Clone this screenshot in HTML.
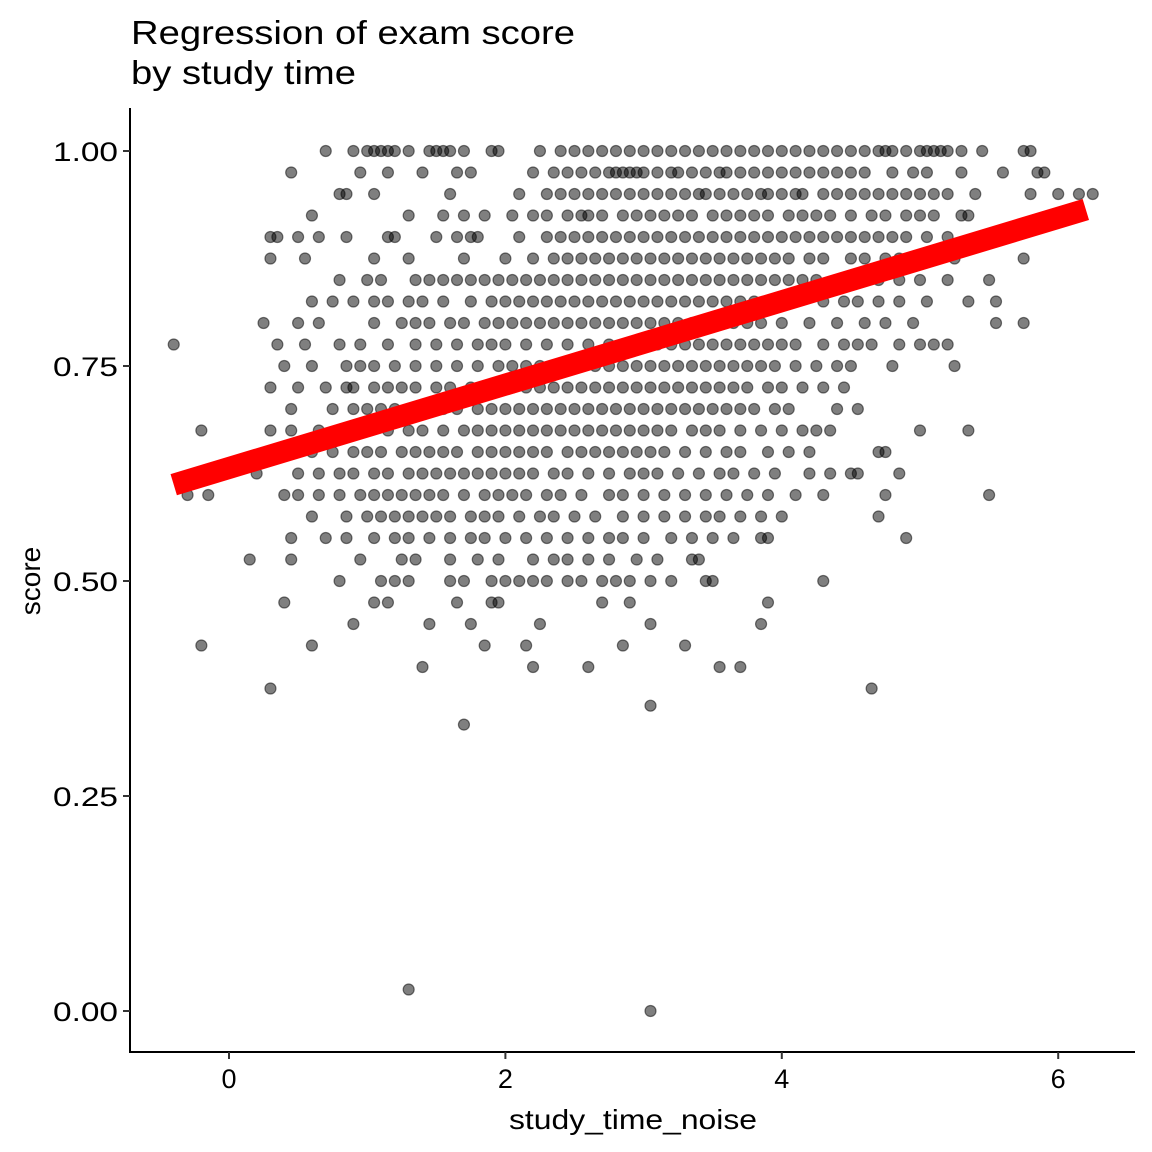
<!DOCTYPE html>
<html><head><meta charset="utf-8"><style>
body{margin:0;background:#fff}
svg{display:block;font-family:"Liberation Sans",Arial,sans-serif}
</style></head><body>
<svg id="chart" width="1152" height="1152" viewBox="0 0 1152 1152">
<rect width="1152" height="1152" fill="#fff"/>
<text x="131" y="44" font-size="33" fill="#000" textLength="444" lengthAdjust="spacingAndGlyphs">Regression of exam score</text>
<text x="131" y="84" font-size="33" fill="#000" textLength="225" lengthAdjust="spacingAndGlyphs">by study time</text>
<g id="points"></g>
<g id="fit"></g>
<line x1="130" y1="108" x2="130" y2="1053" stroke="#000" stroke-width="2"/>
<line x1="129" y1="1052" x2="1135" y2="1052" stroke="#000" stroke-width="2"/>
<g id="yticks"></g>
<g id="xticks"></g>
<text x="633" y="1129" font-size="28" text-anchor="middle" textLength="248" lengthAdjust="spacingAndGlyphs">study_time_noise</text>
<text x="40" y="581" font-size="28" text-anchor="middle" transform="rotate(-90 40 581)">score</text>
</svg>
<script>
const xTicks=[0,2,4,6];
const yTicks=[0,0.25,0.5,0.75,1];
const yTickLabels=["0.00","0.25","0.50","0.75","1.00"];
const fitX=[-0.4,6.2];
const fitY=[0.612,0.932];
const levels=[1.0,0.975,0.95,0.925,0.9,0.875,0.85,0.825,0.8,0.775,0.75,0.725,0.7,0.675,0.65,0.625,0.6,0.575,0.55,0.525,0.5,0.475,0.45,0.425,0.4,0.375,0.355,0.333,0.025,0.0];
const levelX=[
[0.7,0.9,1.0,1.05,1.1,1.15,1.2,1.3,1.45,1.5,1.55,1.6,1.7,1.9,1.95,2.25,2.4,2.5,2.6,2.7,2.8,2.9,3.0,3.1,3.2,3.3,3.4,3.5,3.6,3.7,3.8,3.9,4.0,4.1,4.2,4.3,4.4,4.5,4.6,4.7,4.75,4.8,4.9,5.0,5.05,5.1,5.15,5.2,5.3,5.45,5.75,5.8],
[0.45,0.95,1.15,1.4,1.65,1.75,2.2,2.35,2.45,2.55,2.65,2.75,2.8,2.85,2.9,2.95,3.0,3.1,3.2,3.25,3.35,3.45,3.55,3.6,3.7,3.8,3.9,4.0,4.1,4.2,4.3,4.4,4.5,4.6,4.8,4.95,5.05,5.3,5.6,5.85,5.9],
[0.8,0.85,1.05,1.6,2.1,2.3,2.4,2.5,2.6,2.7,2.8,2.9,3.0,3.1,3.2,3.3,3.4,3.45,3.55,3.65,3.75,3.85,3.9,4.0,4.1,4.15,4.3,4.4,4.5,4.6,4.7,4.8,4.9,5.0,5.1,5.2,5.4,5.8,6.0,6.15,6.25],
[0.6,1.3,1.55,1.7,1.85,2.05,2.2,2.3,2.45,2.55,2.6,2.7,2.85,2.95,3.05,3.15,3.25,3.35,3.5,3.6,3.7,3.8,3.9,4.05,4.15,4.25,4.35,4.5,4.65,4.75,4.9,5.0,5.1,5.3,5.35],
[0.3,0.35,0.5,0.65,0.85,1.15,1.2,1.5,1.65,1.75,1.8,2.1,2.3,2.4,2.5,2.6,2.7,2.8,2.9,3.0,3.1,3.2,3.3,3.4,3.5,3.6,3.7,3.8,3.9,4.0,4.1,4.2,4.3,4.4,4.5,4.6,4.7,4.8,4.9,5.05,5.2],
[0.3,0.55,1.05,1.3,1.7,2.0,2.2,2.35,2.45,2.55,2.65,2.75,2.85,2.95,3.05,3.15,3.25,3.35,3.45,3.55,3.65,3.75,3.85,3.95,4.05,4.2,4.3,4.5,4.6,4.75,4.85,5.25,5.75],
[0.8,1.0,1.1,1.35,1.45,1.55,1.65,1.75,1.85,1.95,2.05,2.15,2.25,2.35,2.45,2.55,2.65,2.75,2.85,2.95,3.05,3.15,3.25,3.35,3.45,3.55,3.65,3.75,3.85,3.95,4.05,4.15,4.25,4.4,4.55,4.7,4.85,5.0,5.2,5.5],
[0.6,0.75,0.9,1.05,1.15,1.3,1.4,1.55,1.75,1.9,2.0,2.1,2.2,2.3,2.4,2.5,2.6,2.7,2.8,2.9,3.0,3.1,3.2,3.3,3.4,3.5,3.6,3.7,3.8,3.9,4.0,4.1,4.3,4.45,4.55,4.7,4.85,5.05,5.35,5.55],
[0.25,0.5,0.65,1.05,1.25,1.35,1.45,1.6,1.7,1.85,1.95,2.05,2.15,2.25,2.35,2.45,2.55,2.65,2.75,2.85,2.95,3.05,3.15,3.25,3.35,3.45,3.55,3.65,3.75,3.85,4.0,4.2,4.4,4.6,4.75,4.95,5.55,5.75],
[-0.4,0.35,0.55,0.8,0.95,1.15,1.35,1.5,1.65,1.8,1.9,2.0,2.15,2.3,2.45,2.6,2.75,2.9,3.0,3.1,3.2,3.3,3.4,3.5,3.6,3.7,3.8,3.9,4.0,4.1,4.3,4.45,4.55,4.65,4.85,5.0,5.1,5.2],
[0.4,0.6,0.85,0.95,1.05,1.2,1.35,1.5,1.65,1.8,1.95,2.05,2.15,2.25,2.35,2.45,2.55,2.65,2.75,2.85,2.95,3.05,3.15,3.25,3.35,3.45,3.55,3.65,3.75,3.85,3.95,4.1,4.25,4.4,4.5,4.8,5.25],
[0.3,0.5,0.7,0.85,0.9,1.05,1.15,1.25,1.35,1.5,1.6,1.75,1.85,1.95,2.05,2.15,2.25,2.35,2.45,2.55,2.65,2.75,2.85,2.95,3.05,3.15,3.25,3.35,3.45,3.55,3.65,3.75,3.9,4.0,4.15,4.3,4.45],
[0.45,0.75,0.9,1.0,1.1,1.2,1.3,1.45,1.55,1.65,1.8,1.9,2.0,2.1,2.2,2.3,2.4,2.5,2.6,2.7,2.8,2.9,3.0,3.1,3.2,3.3,3.4,3.5,3.6,3.7,3.8,3.95,4.05,4.4,4.55],
[-0.2,0.3,0.45,0.65,0.8,1.0,1.15,1.3,1.4,1.55,1.7,1.8,1.9,2.0,2.1,2.2,2.3,2.4,2.5,2.6,2.7,2.8,2.9,3.0,3.1,3.2,3.35,3.45,3.55,3.7,3.85,4.0,4.15,4.25,4.35,5.0,5.35],
[0.35,0.6,0.75,0.9,1.0,1.1,1.25,1.35,1.45,1.55,1.65,1.8,1.9,2.0,2.1,2.2,2.3,2.45,2.55,2.65,2.75,2.85,2.95,3.05,3.15,3.3,3.45,3.6,3.7,3.9,4.05,4.2,4.7,4.75],
[0.2,0.5,0.65,0.8,0.9,1.05,1.15,1.3,1.4,1.5,1.6,1.7,1.8,1.9,2.0,2.1,2.2,2.35,2.45,2.6,2.75,2.9,3.0,3.1,3.25,3.4,3.55,3.65,3.8,3.95,4.2,4.35,4.5,4.55,4.85],
[-0.3,-0.15,0.4,0.5,0.65,0.8,0.95,1.05,1.15,1.25,1.35,1.45,1.55,1.7,1.85,1.95,2.05,2.15,2.3,2.4,2.55,2.75,2.85,3.0,3.15,3.3,3.45,3.6,3.75,3.9,4.1,4.3,4.75,5.5],
[0.6,0.85,1.0,1.1,1.2,1.3,1.4,1.5,1.6,1.75,1.85,1.95,2.1,2.25,2.35,2.5,2.65,2.85,3.0,3.15,3.3,3.45,3.55,3.7,3.85,4.0,4.7],
[0.45,0.7,0.85,1.05,1.2,1.3,1.45,1.6,1.75,1.85,2.0,2.15,2.3,2.45,2.6,2.75,2.85,3.0,3.2,3.35,3.5,3.65,3.85,3.9,4.9],
[0.15,0.45,0.95,1.25,1.35,1.6,1.8,1.95,2.2,2.35,2.45,2.6,2.75,2.95,3.1,3.35,3.4],
[0.8,1.1,1.2,1.3,1.6,1.7,1.9,2.0,2.1,2.2,2.3,2.45,2.55,2.7,2.8,2.9,3.05,3.2,3.45,3.5,4.3],
[0.4,1.05,1.15,1.65,1.9,1.95,2.7,2.9,3.9],
[0.9,1.45,1.75,2.25,3.05,3.85],
[-0.2,0.6,1.85,2.15,2.85,3.3],
[1.4,2.2,2.6,3.55,3.7],
[0.3,4.65],
[3.05],
[1.7],
[1.3],
[3.05]
];
const NS="http://www.w3.org/2000/svg";
const sx=v=>229+v*138.2;
const sy=v=>1011-v*860;
const pg=document.getElementById('points');
levels.forEach((lv,i)=>{
  levelX[i].forEach((xv,j)=>{
    const c=document.createElementNS(NS,'circle');
    
    
    c.setAttribute('cx',sx(xv));
    c.setAttribute('cy',sy(lv));
    c.setAttribute('r',5.5);
    c.setAttribute('fill','rgba(0,0,0,0.5)');
    c.setAttribute('stroke','rgba(0,0,0,0.5)');
    c.setAttribute('stroke-width','1.2');
    pg.appendChild(c);
  });
});
const fg=document.getElementById('fit');
const ln=document.createElementNS(NS,'line');


ln.setAttribute('x1',sx(fitX[0]));ln.setAttribute('y1',sy(fitY[0]));
ln.setAttribute('x2',sx(fitX[1]));ln.setAttribute('y2',sy(fitY[1]));
ln.setAttribute('stroke','#ff0000');ln.setAttribute('stroke-width','22');
fg.appendChild(ln);
const yg=document.getElementById('yticks');
yTicks.forEach((v,i)=>{
  const t=document.createElementNS(NS,'line');
  
  
  t.setAttribute('x1',123);t.setAttribute('x2',130);t.setAttribute('y1',sy(v));t.setAttribute('y2',sy(v));
  t.setAttribute('stroke','#333');t.setAttribute('stroke-width','2');
  yg.appendChild(t);
  const l=document.createElementNS(NS,'text');
  
  
  l.setAttribute('x',118);l.setAttribute('y',sy(v)+10);
  l.setAttribute('text-anchor','end');l.setAttribute('font-size','27');
  l.setAttribute('textLength','65');l.setAttribute('lengthAdjust','spacingAndGlyphs');
  l.textContent=yTickLabels[i];
  yg.appendChild(l);
});
const xg=document.getElementById('xticks');
xTicks.forEach(v=>{
  const t=document.createElementNS(NS,'line');
  
  
  t.setAttribute('x1',sx(v));t.setAttribute('x2',sx(v));t.setAttribute('y1',1052);t.setAttribute('y2',1059);
  t.setAttribute('stroke','#333');t.setAttribute('stroke-width','2');
  xg.appendChild(t);
  const l=document.createElementNS(NS,'text');
  
  
  l.setAttribute('x',sx(v));l.setAttribute('y',1088);
  l.setAttribute('text-anchor','middle');l.setAttribute('font-size','27');
  l.textContent=String(v);
  xg.appendChild(l);
});
</script>
</body></html>
